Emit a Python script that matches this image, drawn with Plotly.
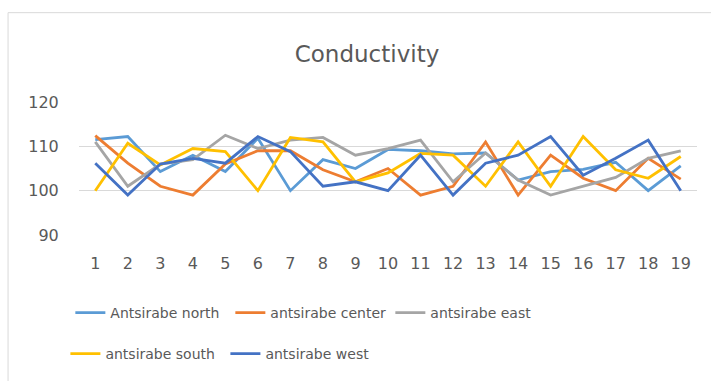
import plotly.graph_objects as go

# Sample index along the x axis
samples = list(range(1, 20))

north = [111.5, 112.2, 104.3, 108, 104.3, 111.8, 100, 107, 105, 109.3,
         109, 108.3, 108.5, 102.4, 104.3, 104.8, 106.4, 100, 105.6]
center = [112.4, 106.2, 101, 99, 106, 109, 109, 104.7, 102, 105,
          99, 101, 111, 99, 108, 102.8, 100, 107.3, 102.6]
east = [111, 101, 106, 107, 112.5, 109.5, 111.4, 112, 108, 109.5,
        111.4, 102, 108.5, 102.4, 99, 101, 103, 107.3, 109]
south = [100, 110.7, 105.8, 109.5, 108.8, 100, 112, 111, 102, 104,
         108.4, 108, 101, 111, 101, 112.2, 104.7, 102.8, 107.7]
west = [106.2, 99, 106, 107.3, 106.2, 112.2, 108.8, 101, 102, 100,
        108, 99, 106.2, 108, 112.2, 103.5, 107.3, 111.4, 100]

series_names = ["Antsirabe north", "antsirabe center", "antsirabe east",
                "antsirabe south", "antsirabe west"]
series_values = [north, center, east, south, west]
colors = ["#5B9BD5", "#ED7D31", "#A5A5A5", "#FFC000", "#4472C4"]
legend_ids = ["legend", "legend", "legend", "legend2", "legend2"]

y_ticks = [90, 100, 110, 120]

fig = go.Figure()
for name, vals, col, lg in zip(series_names, series_values, colors, legend_ids):
    fig.add_trace(go.Scatter(
        x=samples, y=vals, name=name, mode="lines",
        line=dict(color=col, width=2.8),
        legend=lg,
    ))

txt = "#595959"
font_family = "DejaVu Sans, Verdana, sans-serif"

fig.update_layout(
    width=711, height=381,
    margin=dict(l=79, r=14, t=102, b=145),
    paper_bgcolor="white", plot_bgcolor="white",
    font=dict(family=font_family, size=14, color=txt),
    title=dict(text="Conductivity", x=367 / 711, xanchor="center",
               y=1 - 54 / 381, yanchor="middle",
               font=dict(size=23, color=txt)),
    xaxis=dict(range=[0.5, 19.5], tickmode="array", tickvals=samples,
               ticktext=[str(s) for s in samples],
               showgrid=False, zeroline=False, showline=False,
               ticks="outside", ticklen=14, tickcolor="rgba(0,0,0,0)",
               tickfont=dict(size=16, color=txt)),
    yaxis=dict(range=[90, 120], tickmode="array", tickvals=y_ticks,
               showgrid=True, gridcolor="#D9D9D9", gridwidth=1,
               zeroline=False, showline=False,
               ticks="outside", ticklen=16, tickcolor="rgba(0,0,0,0)",
               tickfont=dict(size=16, color=txt)),
    legend=dict(orientation="h", x=-0.014, xanchor="left",
                y=(236 - 313) / 134, yanchor="middle",
                entrywidth=115, entrywidthmode="pixels",
                font=dict(size=14, color=txt), bgcolor="rgba(0,0,0,0)"),
    legend2=dict(orientation="h", x=-0.022, xanchor="left",
                 y=(236 - 354) / 134, yanchor="middle",
                 entrywidth=115, entrywidthmode="pixels",
                 font=dict(size=14, color=txt), bgcolor="rgba(0,0,0,0)"),
    showlegend=True,
)

# Chart frame
fig.add_shape(type="rect", xref="paper", yref="paper",
              x0=(8 - 79) / 618.5, x1=1.2, y0=-3, y1=(236 - 12) / 134,
              line=dict(color="#D9D9D9", width=1), fillcolor="rgba(0,0,0,0)",
              layer="below")

fig.write_html("out.html")
